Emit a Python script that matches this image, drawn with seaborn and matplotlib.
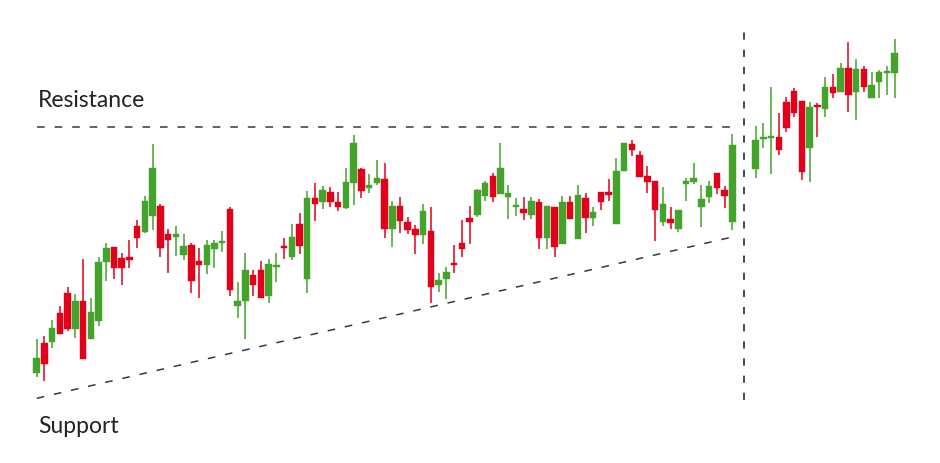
import numpy as np
import pandas as pd
import matplotlib
matplotlib.use("Agg")
import matplotlib.pyplot as plt
import seaborn as sns

# ---- data (price units) ----
day = list(range(91)) + list(range(93, 112))

open_ = [90.3, 120.3, 121, 149.7, 170.3, 134, 162.3, 124.3, 141.7, 201.3,
         215.7, 205.3, 205.7, 237, 230.8, 247, 257, 229, 226.3, 207.7,
         217.7, 202.3, 198, 214, 220, 253.7, 157.3, 162.3, 188, 193,
         167, 196.5, 216.7, 205.7, 238.7, 184, 265.3, 261, 271.3, 261,
         255.3, 279.7, 293.7, 275, 279.7, 284, 234, 257, 241.3, 233.7,
         228, 232.3, 178, 184, 199.5, 219.7, 244.7, 248, 267.3, 287.3,
         269, 265.7, 255.7, 254.3, 248.3, 260.7, 224.7, 255.7, 218.7, 260.7,
         223.7, 265.3, 245.3, 271.3, 271.3, 239, 292.3, 318.7, 307.7, 287,
         282.3, 240.7, 243.7, 234, 278.7, 280.7, 256.3, 266.3, 290.3, 273,
         240.7,
         294, 323.7, 325.3, 326.3, 360.7, 372, 362.3, 314.7, 357.7, 353.7,
         376.3, 371.3, 395.3, 371, 393.7, 364.7, 380.7, 389.7, 390.3]
high = [123.7, 127, 143.3, 157, 175.7, 169, 204, 164.7, 205.7, 219.7,
        215.7, 210.3, 223, 243.5, 267, 318.7, 259, 234, 237, 229,
        219.7, 214.7, 223, 223, 232.3, 255.7, 180.7, 210.3, 193, 202.3,
        204.3, 210.3, 224.7, 238.7, 249.7, 272, 279.7, 277, 275.7, 271.3,
        295.3, 327.8, 295, 288.7, 303, 299.7, 262, 266.3, 245.7, 238,
        259, 255.7, 189.7, 196.5, 218, 243.3, 257, 274, 282.3, 290.3,
        320.3, 278, 264.7, 265.7, 266, 264, 257, 255.7, 267, 267,
        278, 269.7, 256.3, 271.3, 284, 304.7, 320.3, 322.7, 312.3, 297,
        282.3, 275.7, 255.7, 253, 285.3, 299.7, 278, 282.3, 290.3, 277.3,
        329,
        337.3, 340.3, 376.3, 349.7, 365.7, 374.7, 362.3, 361.3, 360.3, 386.3,
        389, 400.3, 420.7, 403.7, 397, 390.7, 393, 397, 424]
low = [85.7, 82, 115.3, 129, 132.3, 124.7, 104, 124.3, 137, 182.3,
       183.7, 178, 195, 215.5, 229.7, 233, 206, 190.5, 207.3, 203,
       169.7, 165.3, 188.7, 195.3, 210.7, 167, 144.7, 124, 167, 165.3,
       160.3, 180.7, 204.3, 203, 209, 169.7, 242.3, 254.3, 256.3, 251.7,
       253.7, 258, 265.5, 270.3, 278, 224.7, 215.7, 229.7, 229, 209,
       218.7, 160.3, 171.3, 163.7, 190.3, 206.3, 218.7, 245.7, 262.3, 260.7,
       269, 243.7, 247, 243, 243.7, 214, 214, 206.3, 218.7, 243.7,
       223.7, 229.7, 237.3, 253, 262.3, 239, 292.3, 307, 286.3, 270.3,
       222, 237, 234, 231.3, 262.3, 278.7, 235.7, 259.7, 269, 254.7,
       233,
       284.7, 314.7, 289, 308, 331.3, 345.7, 283, 281.3, 325.7, 345.7,
       364.7, 371.3, 350.7, 343, 371.3, 364.7, 364.7, 368, 364.7]
close = [105.3, 99, 135, 129, 133.7, 161.7, 104, 150.7, 201, 214.7,
         195.3, 195, 203, 225, 262.3, 295.3, 215.5, 223, 229, 217,
         182.3, 198, 218, 219.7, 221.3, 173, 162, 193, 178, 165.3,
         199.5, 198, 215.3, 226, 217, 265.3, 259.3, 273, 261.3, 256.3,
         281, 320.3, 272, 278, 285.3, 234, 257, 242.3, 233, 228,
         252.3, 176.3, 183.5, 191.3, 198, 214, 240.7, 273, 279.7, 265.7,
         295.3, 270.3, 257, 250.3, 262.2, 224.7, 257, 215.7, 260.7, 243.7,
         268, 245.3, 251, 261.3, 267.7, 292, 320.3, 313, 286.3, 281.3,
         253, 259, 240.5, 253, 282.3, 285.3, 263.7, 277.3, 274.7, 267.3,
         318,
         323, 325.3, 326.3, 313, 334.7, 350.3, 291.3, 355.7, 355.7, 376.3,
         369.7, 394.7, 368, 393.7, 376.3, 378, 390.7, 390.7, 409.7]

resistance_level = 335.7
support_start = 64.7
support_end = 226.0
breakout_day = 91.5

df = pd.DataFrame({"day": day, "open": open_, "high": high, "low": low, "close": close})
df["up"] = df["close"] >= df["open"]

GREEN = "#43a32b"
RED = "#e3001b"
LINE = "#2f3b48"

sns.set_theme(style="white")
plt.rcParams["font.family"] = ["Lato", "DejaVu Sans"]

fig = plt.figure(figsize=(9.4, 4.63), dpi=100)
ax = fig.add_axes([0, 0, 1, 1])

colors = np.where(df["up"], GREEN, RED)
# wicks
ax.vlines(df["day"], df["low"], df["high"], colors=colors, linewidth=1.1, zorder=2)
# bodies
bottom = np.minimum(df["open"], df["close"])
height = np.maximum(np.abs(df["close"] - df["open"]), 2.0)
ax.bar(df["day"], height, bottom=bottom, width=0.84, color=colors,
       edgecolor=colors, linewidth=0.3, zorder=3)

# resistance line
res = pd.DataFrame({"day": [day[0], day[90]], "price": [resistance_level, resistance_level]})
sns.lineplot(data=res, x="day", y="price", ax=ax, color=LINE, linewidth=1.1,
             linestyle=(0, (5, 6.5)), zorder=1)
# support line
sup = pd.DataFrame({"day": [day[0], day[90]], "price": [support_start, support_end]})
sns.lineplot(data=sup, x="day", y="price", ax=ax, color=LINE, linewidth=1.1,
             linestyle=(0, (5, 6.5)), zorder=1)
# breakout vertical line
ax.plot([breakout_day, breakout_day], [63, 431], color=LINE, linewidth=1.3,
        linestyle=(0, (4, 5.5)), zorder=1)

ax.text(0.17, 355.7, "Resistance", fontsize=16.5, color="#222222", ha="left", va="baseline")
ax.text(0.17, 29.8, "Support", fontsize=16.5, color="#222222", ha="left", va="baseline")

ax.set_xlim(-4.75, 116.86)
ax.set_ylim(0, 463)
ax.set_axis_off()

fig.savefig("out.png", dpi=100)
